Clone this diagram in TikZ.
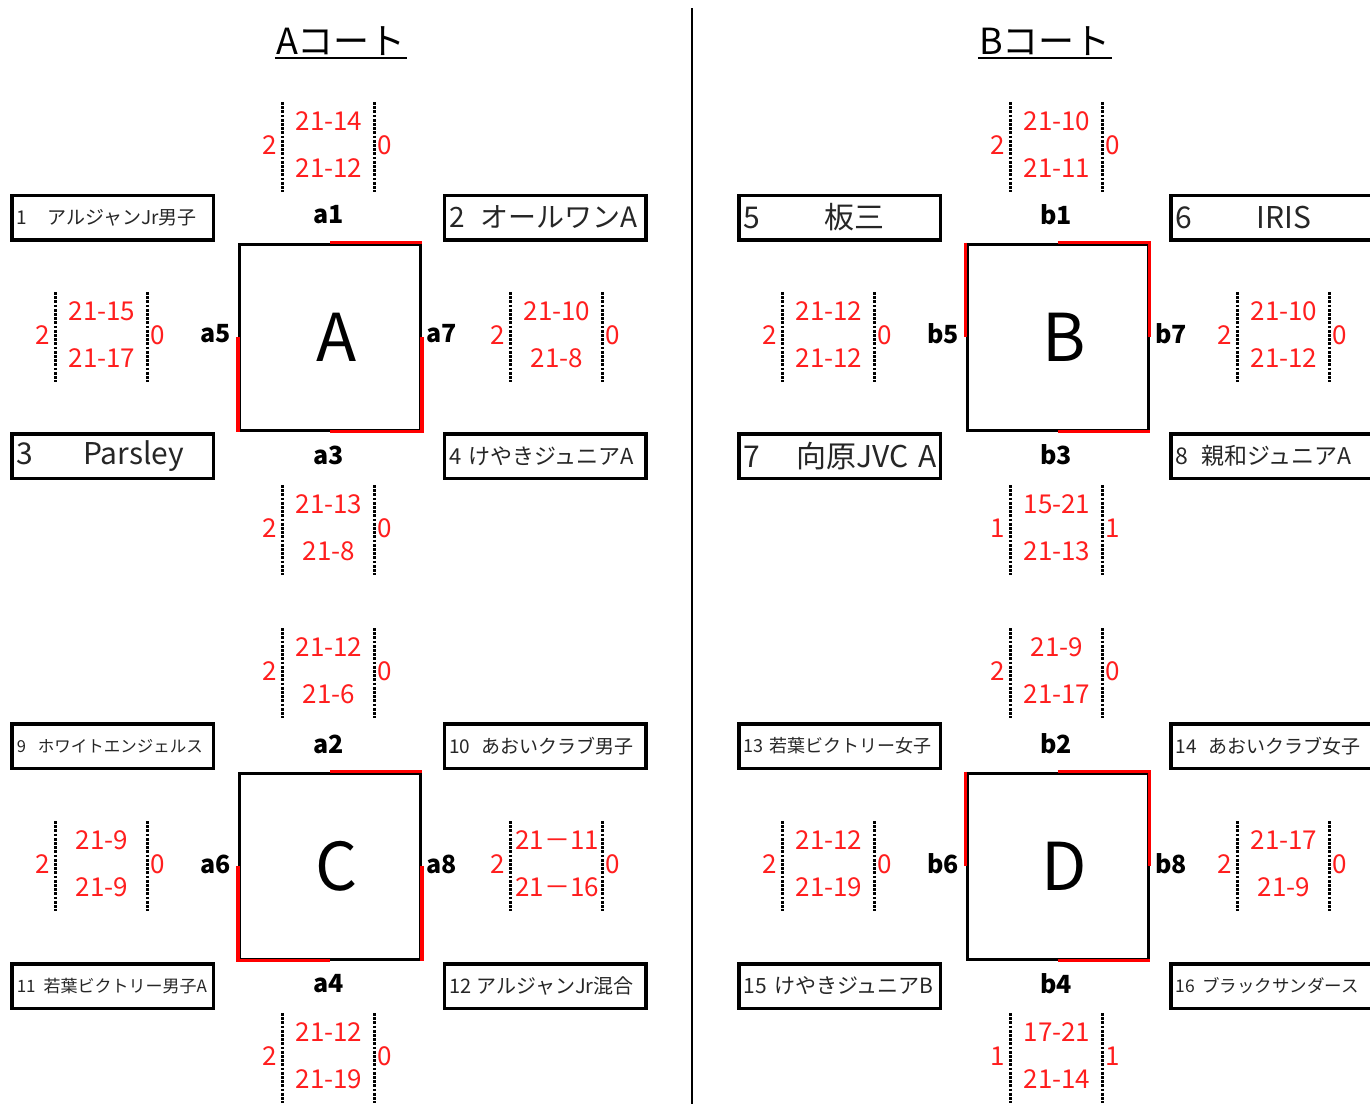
\documentclass[tikz,border=0pt]{standalone}
\usepackage{fontspec}
\setmainfont{Noto Sans CJK JP}
\definecolor{scorered}{RGB}{255,30,30}
\begin{document}
\begin{tikzpicture}[x=1pt, y=-1pt,
    court/.style={draw, line width=3pt, minimum width=181pt, minimum height=186pt,
      inner sep=0pt, font=\fontsize{66}{66}\selectfont},
    win/.style={draw=red, line width=3.2pt},
    team/.style={draw, line width=3.5pt, minimum height=44.5pt, text width=191.5pt,
      inner xsep=5pt, inner ysep=0pt, align=left, text=black!85},
    slot/.style={inner sep=0pt, font=\bfseries\fontsize{25}{25}\selectfont},
    score/.style={inner sep=0pt, text=scorered, font=\fontsize{26}{26}\selectfont},
    sep/.style={line width=3pt, dash pattern=on 2.8pt off 1.4pt},
    title/.style={inner sep=1pt, font=\fontsize{36}{36}\selectfont}]
  \useasboundingbox (0,0) rectangle (1370,1104);

  % titles and the line between the two courts
  \node[title, anchor=base] (ttlA) at (341,54) {Aコート};
  \draw[line width=2.5pt] ([yshift=-4pt]ttlA.base west) -- ([yshift=-4pt]ttlA.base east);
  \node[title, anchor=base] (ttlB) at (1045,54) {Bコート};
  \draw[line width=2.5pt] ([yshift=-4pt]ttlB.base west) -- ([yshift=-4pt]ttlB.base east);
  \draw[line width=2pt] (692,8) -- (692,1104);

  % courts
  \node[court] (A) at (330,337) {\hspace*{14pt}A};
  \node[court] (B) at (1057.5,337) {\hspace*{14pt}B};
  \node[court] (C) at (330,866) {\hspace*{14pt}C};
  \node[court] (D) at (1057.5,866) {\hspace*{14pt}D};
  \draw[win] (A.north) -- (A.north east);
  \draw[win] (A.east) -- (A.south east) -- (A.south);
  \draw[win] (A.west) -- (A.south west);
  \draw[win] (C.north) -- (C.north east);
  \draw[win] (C.east) -- (C.south east);
  \draw[win] (C.west) -- (C.south west) -- (C.south);
  \draw[win] (B.north west) -- (B.west);
  \draw[win] (B.north) -- (B.north east) -- (B.east);
  \draw[win] (B.south) -- (B.south east);
  \draw[win] (D.north west) -- (D.west);
  \draw[win] (D.north) -- (D.north east) -- (D.east);
  \draw[win] (D.south) -- (D.south east);

  % match slots
  \foreach \m/\lx/\ly in {a1/329/215, a3/329/455, a5/216/334, a7/442/334,
      a2/329/744, a4/329/984, a6/216/864, a8/442/864,
      b1/1056/215, b3/1056/455, b5/943/334, b7/1171/334,
      b2/1056/744, b4/1056/984, b6/943/864, b8/1171/864}
    \node[slot] (\m) at (\lx,\ly) {\m};

  % teams
  \node[team, font=\fontsize{19}{19}\selectfont] (t1) at (112.5,217.5) {\mbox{1\hspace{20pt}アルジャンJr男子}};
  \node[team, font=\fontsize{28}{28}\selectfont] (t2) at (545,217.5) {\mbox{2\hspace{16pt}オールワンA}};
  \node[team, font=\fontsize{30}{30}\selectfont] (t3) at (112.5,456) {\mbox{3\hspace{50pt}Parsley}};
  \node[team, font=\fontsize{22}{22}\selectfont] (t4) at (545,456) {\mbox{4\hspace{7pt}けやきジュニアA}};
  \node[team, font=\fontsize{30}{30}\selectfont] (t5) at (839.5,217.5) {\mbox{5\hspace{64pt}板三}};
  \node[team, font=\fontsize{30}{30}\selectfont] (t6) at (1271.5,217.5) {\mbox{6\hspace{64pt}IRIS}};
  \node[team, font=\fontsize{30}{30}\selectfont] (t7) at (839.5,456) {\mbox{7\hspace{36pt}向原JVC A}};
  \node[team, font=\fontsize{23}{23}\selectfont] (t8) at (1271.5,456) {\mbox{8\hspace{13pt}親和ジュニアA}};
  \node[team, font=\fontsize{16.5}{16.5}\selectfont] (t9) at (112.5,746) {\mbox{9\hspace{12pt}ホワイトエンジェルス}};
  \node[team, font=\fontsize{19}{19}\selectfont] (t10) at (545,746) {\mbox{10\hspace{11pt}あおいクラブ男子}};
  \node[team, font=\fontsize{17}{17}\selectfont] (t11) at (112.5,986) {\mbox{11\hspace{8pt}若葉ビクトリー男子A}};
  \node[team, font=\fontsize{20}{20}\selectfont] (t12) at (545,986) {\mbox{12\hspace{5pt}アルジャンJr混合}};
  \node[team, font=\fontsize{18}{18}\selectfont] (t13) at (839.5,746) {\mbox{13\hspace{6pt}若葉ビクトリー女子}};
  \node[team, font=\fontsize{19}{19}\selectfont] (t14) at (1271.5,746) {\mbox{14\hspace{12pt}あおいクラブ女子}};
  \node[team, font=\fontsize{21}{21}\selectfont] (t15) at (839.5,986) {\mbox{15\hspace{7pt}けやきジュニアB}};
  \node[team, font=\fontsize{17.5}{17.5}\selectfont] (t16) at (1271.5,986) {\mbox{16\hspace{7pt}ブラックサンダース}};

  % results: games won, two set scores
  \foreach \m/\cx/\cy/\lw/\sa/\sb/\rw in {a1/328/147/2/21-14/21-12/0,
      a3/328/530/2/21-13/21-8/0, a5/101/337/2/21-15/21-17/0,
      a7/556/337/2/21-10/21-8/0, a2/328/673/2/21-12/21-6/0,
      a4/328/1058/2/21-12/21-19/0, a6/101/866/2/21-9/21-9/0,
      a8/556/866/2/21－11/21－16/0, b1/1056/147/2/21-10/21-11/0,
      b3/1056/530/1/15-21/21-13/1, b5/828/337/2/21-12/21-12/0,
      b7/1283/337/2/21-10/21-12/0, b2/1056/673/2/21-9/21-17/0,
      b4/1056/1058/1/17-21/21-14/1, b6/828/866/2/21-12/21-19/0,
      b8/1283/866/2/21-17/21-9/0}{
    \node[score] (\m-l) at (\cx-58,\cy-2) {\lw};
    \node[score] (\m-r) at (\cx+57,\cy-2) {\rw};
    \node[score] (\m-s1) at (\cx+1,\cy-26) {\sa};
    \node[score] (\m-s2) at (\cx+1,\cy+21) {\sb};
    \draw[sep] (\cx-46,\cy-45) -- (\cx-46,\cy+45);
    \draw[sep] (\cx+46,\cy-45) -- (\cx+46,\cy+45);
  }
\end{tikzpicture}
\end{document}
